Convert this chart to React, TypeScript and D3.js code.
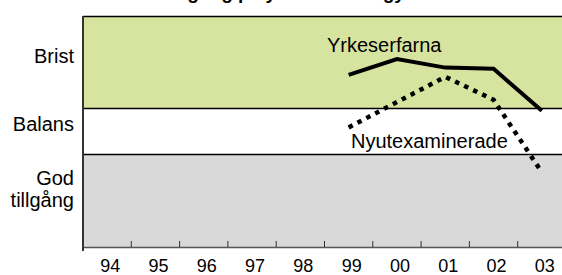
import React from 'react';
import * as d3 from 'd3';

const years = ['94', '95', '96', '97', '98', '99', '00', '01', '02', '03'];
const erfarnaYears = ['99', '00', '01', '02', '03'];
const erfarnaValues = [7.48, 8.17, 7.8, 7.75, 5.92];
const nyexYears = ['99', '00', '01', '02', '03'];
const nyexValues = [5.2, 6.3, 7.4, 6.4, 3.25];
// zones from bottom to top
const zoneNames = ['God tillgång', 'Balans', 'Brist'];
const zoneBounds = [0, 4, 6, 10];
const zoneColors = ['#d9d9d9', '#ffffff', '#d7e4a0'];

const W = 562;
const H = 275;
const left = 83;
const top = 17;
const bottom = 247;
const bandW = 48.3;

export default function App() {
  const x = d3.scaleBand<string>().domain(years).range([left, left + bandW * years.length]);
  const y = d3.scaleLinear().domain([0, 10]).range([bottom, top]);
  const cx = (d: string) => (x(d) as number) + x.bandwidth() / 2;

  const line = d3.line<[string, number]>().x(d => cx(d[0])).y(d => y(d[1]));
  const erfarna = erfarnaYears.map((d, i) => [d, erfarnaValues[i]] as [string, number]);
  const nyex = nyexYears.map((d, i) => [d, nyexValues[i]] as [string, number]);
  const right = left + bandW * years.length;
  const font = 'Arial, "Liberation Sans", sans-serif';

  return (
    <svg width={W} height={H} style={{ position: 'absolute', left: 0, top: 0 }} fontFamily={font}>
      <text x={(left + W) / 2 - 4} y={-1} textAnchor="middle" fontWeight="bold" fontSize={19}>
        Tillgång på yrkeslärare i gymnasiet
      </text>
      {zoneNames.map((z, i) => (
        <rect key={z} x={left} width={right - left}
          y={y(zoneBounds[i + 1])} height={y(zoneBounds[i]) - y(zoneBounds[i + 1])}
          fill={zoneColors[i]} />
      ))}
      {zoneBounds.slice(1).map(b => (
        <line key={b} x1={left} x2={right} y1={y(b) - 0.5} y2={y(b) - 0.5} stroke="#000" strokeWidth={1.3} />
      ))}
      <line x1={left} x2={right} y1={bottom + 0.5} y2={bottom + 0.5} stroke="#555" strokeWidth={1.5} />
      <line x1={left} x2={left} y1={top - 1} y2={bottom + 4} stroke="#333" strokeWidth={2} />
      {years.slice(1).map(d => (
        <line key={d} x1={x(d)} x2={x(d)} y1={bottom - 6} y2={bottom} stroke="#333" strokeWidth={1} />
      ))}
      {years.map(d => (
        <text key={d} x={cx(d) + 3} y={272} textAnchor="middle" fontSize={18}>{d}</text>
      ))}
      <text x={74} y={63} textAnchor="end" fontSize={20}>Brist</text>
      <text x={74} y={131} textAnchor="end" fontSize={20}>Balans</text>
      <text x={74} y={185} textAnchor="end" fontSize={20}>God</text>
      <text x={74} y={207} textAnchor="end" fontSize={20}>tillgång</text>

      <path d={line(erfarna) || ''} fill="none" stroke="#000" strokeWidth={4} />
      <path d={line(nyex) || ''} fill="none" stroke="#000" strokeWidth={4.5} strokeDasharray="4.5,5.5" />

      <text x={327} y={52} fontSize={20}>Yrkeserfarna</text>
      <text x={351} y={148} fontSize={20}>Nyutexaminerade</text>
    </svg>
  );
}
